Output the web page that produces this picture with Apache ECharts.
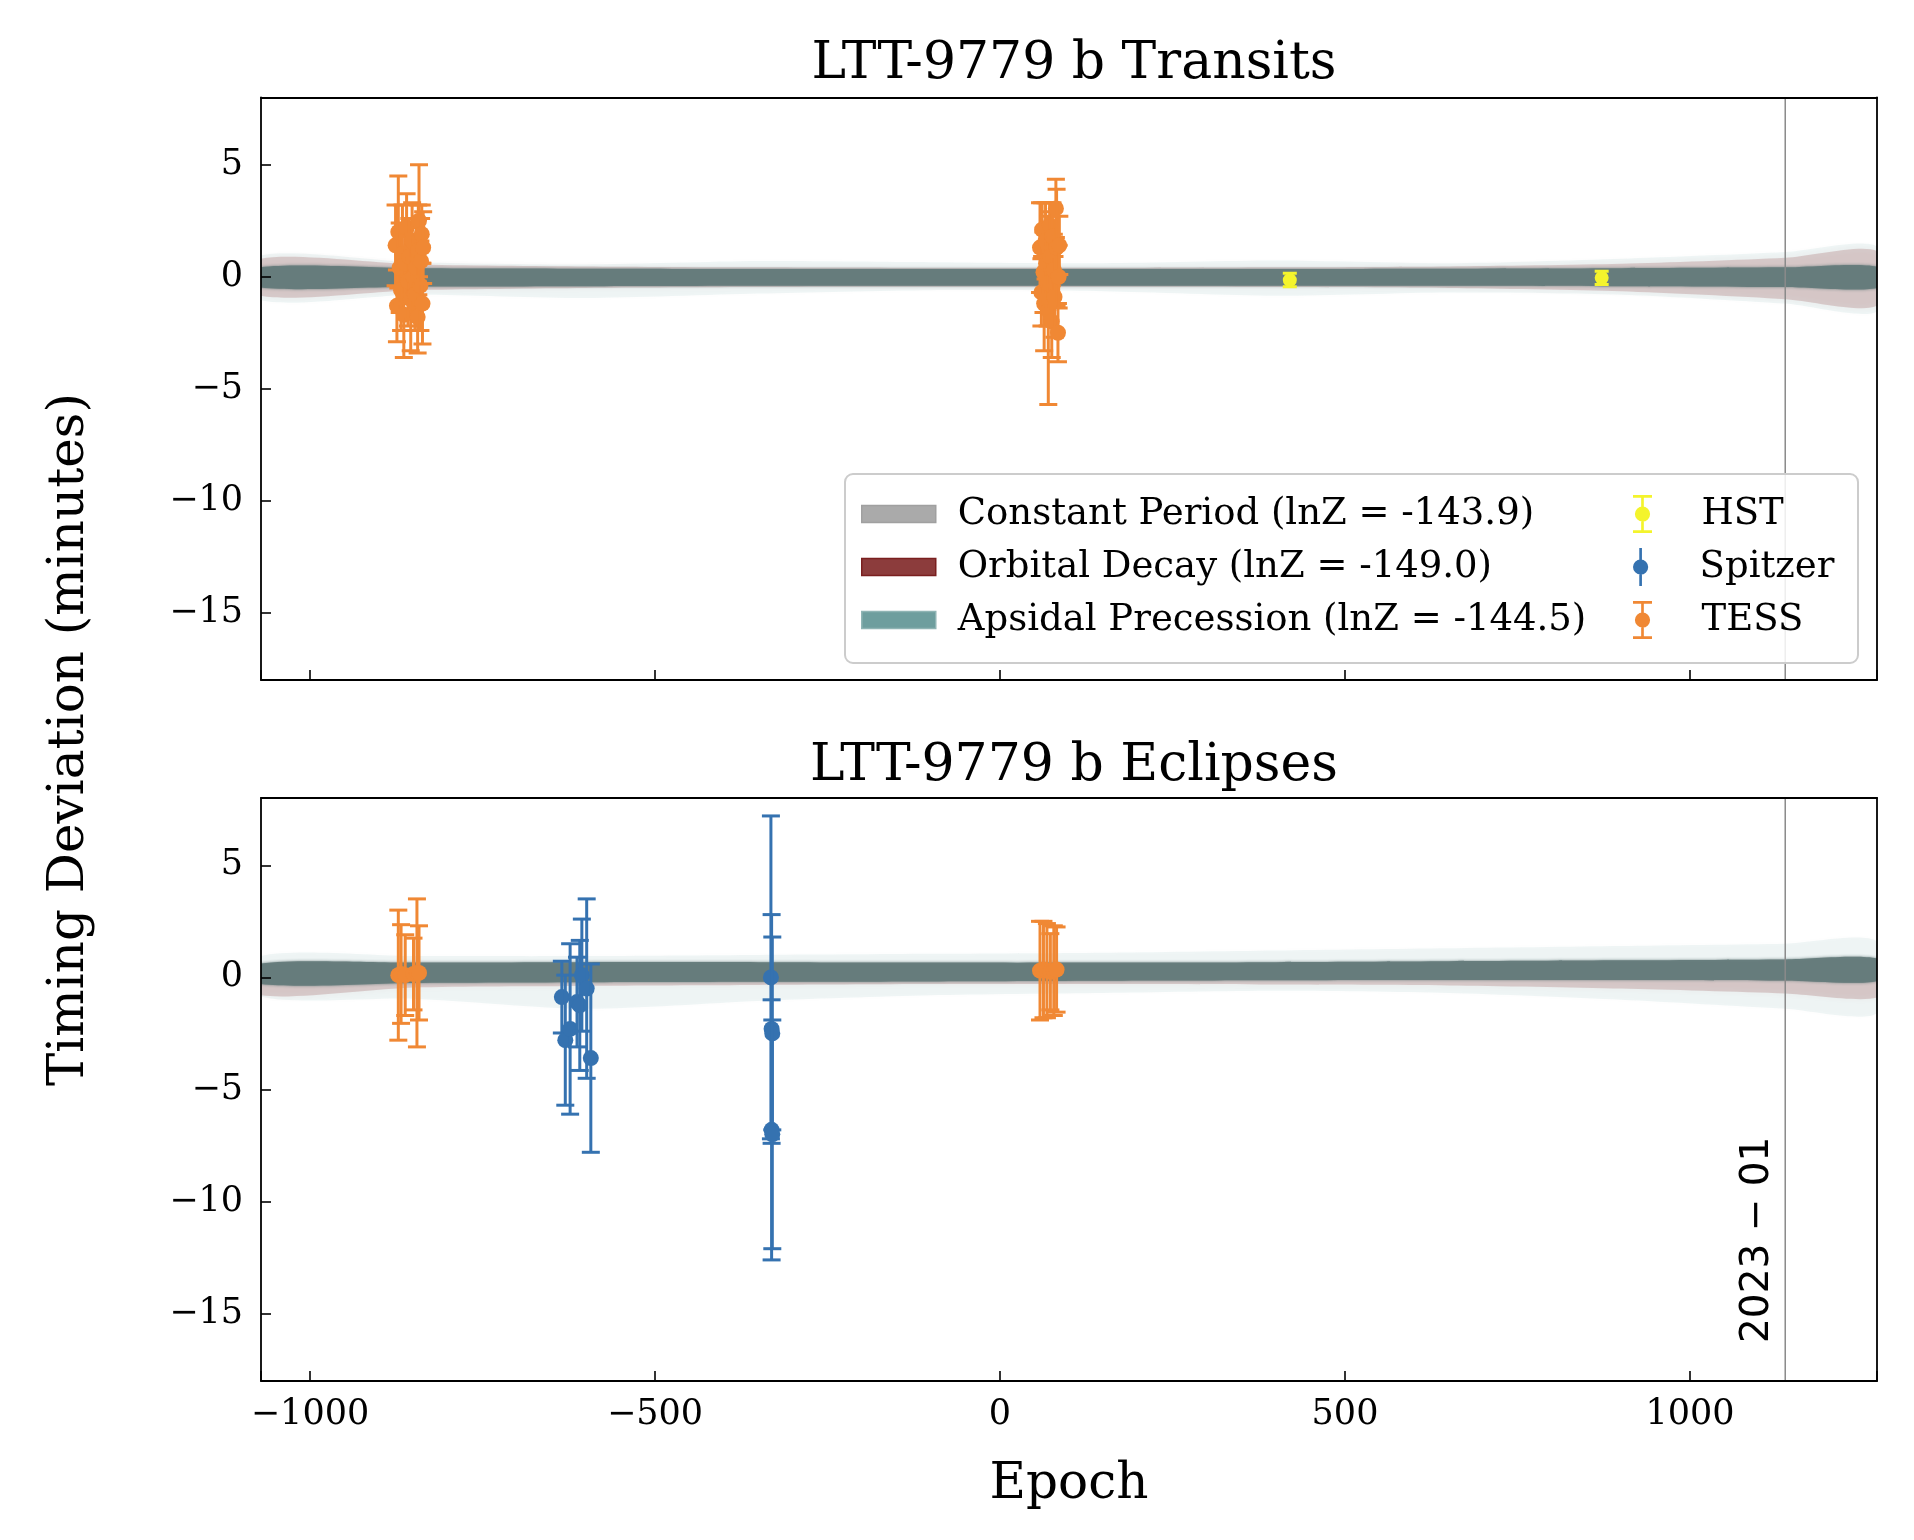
<!DOCTYPE html>
<html>
<head>
<meta charset="utf-8">
<script src="https://cdn.jsdelivr.net/npm/echarts@6/dist/echarts.min.js"></script>
<style>
  html, body { margin: 0; padding: 0; background: #fff; }
  #chart { width: 1914px; height: 1540px; }
</style>
</head>
<body>
<div id="chart"></div>
<script>
/* ========== data ========== */

const xMin = -1071, xMax = 1271
const yMin = -18, yMax = 8
const dateLine = 1138
const dateLabel = '2023 − 01'

const titles = ['LTT-9779 b Transits', 'LTT-9779 b Eclipses']
const xTicks = [-1000, -500, 0, 500, 1000]
const yTicks = [-15, -10, -5, 0, 5]

const nameConst = 'Constant Period (lnZ = -143.9)'
const nameDecay = 'Orbital Decay (lnZ = -149.0)'
const nameApsidal = 'Apsidal Precession (lnZ = -144.5)'

// [epoch, deviation (min), error (min)]
const tessTransits = [
  [-876, 1.4, 1.8], [-874, -1.3, 1.6], [-872, 2.0, 2.5], [-870, 0.4, 2.0],
  [-868, -0.6, 1.8], [-866, 1.0, 2.2], [-864, -1.7, 1.9], [-862, 0.6, 1.5],
  [-860, 2.2, 1.5], [-858, -0.2, 2.0], [-856, 0.9, 1.7], [-854, -1.0, 2.3],
  [-852, 1.6, 1.7], [-850, 0.0, 1.9], [-848, -0.8, 1.6], [-846, 0.4, 1.8],
  [-844, -1.8, 1.6], [-843, 1.2, 2.0], [-842, 2.5, 2.5], [-840, -0.4, 2.0],
  [-839, 0.7, 1.9], [-838, 1.9, 1.3], [-837, -1.2, 1.8], [-836, 1.3, 1.6],
  [58, 1.3, 2.0], [60, -0.7, 1.5], [61, 2.1, 1.2], [63, 0.2, 1.8],
  [64, -1.2, 2.1], [66, 1.6, 1.7], [67, 0.6, 1.4], [69, -0.3, 1.9],
  [70, -1.5, 4.2], [72, 2.3, 1.0], [73, 0.9, 2.0], [75, -2.0, 1.6],
  [76, 1.8, 1.5], [78, 0.3, 1.6], [79, -0.9, 1.8], [81, 3.05, 1.3],
  [82, 1.3, 2.6], [84, -2.5, 1.3], [85, 0.0, 1.4], [86, 1.4, 1.3]
]
const hstTransits = [[420, -0.15, 0.3], [872, -0.05, 0.3]]

const tessEclipses = [
  [-872, 0.1, 2.9], [-868, 0.15, 2.2], [-862, 0.1, 1.8], [-850, 0.15, 1.6],
  [-845, 0.2, 3.3], [-842, 0.2, 2.1],
  [58, 0.3, 2.2], [63, 0.35, 2.15], [68, 0.3, 2.1], [73, 0.25, 1.7],
  [78, 0.3, 2.0], [82, 0.35, 1.9]
]
const spitzerEclipses = [
  [-635, -0.88, 1.6], [-630, -2.8, 2.9], [-623, -2.3, 3.8], [-613, -1.1, 2.0],
  [-609, -1.25, 2.9], [-606, 0.1, 2.5], [-599, -0.5, 4.0], [-593, -3.6, 4.2],
  [-332, 0.0, 7.2], [-331, -2.3, 5.1], [-330, -2.5, 4.3], [-331, -6.8, 5.8],
  [-330, -7.0, 5.1]
]

// model posterior bands
const bandEpochs = [-1071, -850, -600, -350, -100, 150, 400, 650, 900, 1138, 1271]

const constTransitLo = [-0.45, -0.40, -0.38, -0.36, -0.36, -0.36, -0.36, -0.36, -0.38, -0.42, -0.45]
const constTransitHi = [0.38, 0.35, 0.34, 0.33, 0.33, 0.33, 0.33, 0.34, 0.35, 0.38, 0.40]
const decayTransitLo = [-0.85, -0.60, -0.50, -0.46, -0.45, -0.45, -0.46, -0.50, -0.65, -1.00, -1.30]
const decayTransitHi = [0.80, 0.55, 0.46, 0.42, 0.40, 0.40, 0.42, 0.46, 0.58, 0.85, 1.15]
const apsidalTransitLo = [-1.05, -0.80, -0.95, -0.75, -0.60, -0.65, -0.85, -0.70, -0.80, -1.20, -1.55]
const apsidalTransitHi = [0.95, 0.65, 0.55, 0.70, 0.65, 0.60, 0.72, 0.60, 0.80, 1.10, 1.35]
const coreTransitLo = [-0.48, -0.44, -0.42, -0.40, -0.40, -0.40, -0.40, -0.40, -0.42, -0.46, -0.50]
const coreTransitHi = [0.42, 0.38, 0.36, 0.35, 0.35, 0.35, 0.35, 0.36, 0.38, 0.42, 0.45]

const constEclipseLo = [-0.25, -0.22, -0.20, -0.18, -0.16, -0.14, -0.12, -0.12, -0.12, -0.14, -0.16]
const constEclipseHi = [0.55, 0.55, 0.58, 0.60, 0.60, 0.60, 0.62, 0.65, 0.68, 0.72, 0.75]
const decayEclipseLo = [-0.80, -0.45, -0.38, -0.34, -0.30, -0.30, -0.32, -0.36, -0.50, -0.72, -0.90]
const decayEclipseHi = [0.55, 0.40, 0.35, 0.30, 0.30, 0.30, 0.30, 0.32, 0.35, 0.40, 0.45]
const apsidalEclipseLo = [-0.85, -0.95, -1.40, -1.05, -0.80, -0.70, -0.60, -0.70, -1.00, -1.40, -1.60]
const apsidalEclipseHi = [0.95, 0.95, 0.95, 1.00, 1.05, 1.10, 1.20, 1.30, 1.40, 1.50, 1.60]
const coreEclipseLo = [-0.30, -0.25, -0.22, -0.20, -0.18, -0.15, -0.13, -0.12, -0.12, -0.14, -0.16]
const coreEclipseHi = [0.62, 0.66, 0.68, 0.68, 0.66, 0.66, 0.68, 0.72, 0.76, 0.80, 0.84]

/* ========== style ========== */

const SERIF = 'DejaVu Serif'
const C_TESS = '#f08834'
const C_SPITZER = '#3572b0'
const C_HST = '#f4f42c'
const C_CORE = 'rgba(102,124,124,0.96)'

const grids = [
  { left: 261, top: 97.5, width: 1616, height: 582.5 },
  { left: 261, top: 798, width: 1616, height: 583 }
]

function fmtNum(v) {
  return v < 0 ? '−' + Math.abs(v) : String(v)
}

function bandSeries(name, gi, lo, hi, fill, blur, z) {
  return {
    type: 'custom', name, xAxisIndex: gi * 2, yAxisIndex: gi * 2,
    silent: true, clip: true, z,
    data: [[0, 0]],
    renderItem(params, api) {
      const pts = []
      bandEpochs.forEach((e, i) => pts.push(api.coord([e, hi[i]])))
      for (let i = bandEpochs.length - 1; i >= 0; i--) pts.push(api.coord([bandEpochs[i], lo[i]]))
      return {
        type: 'polygon',
        shape: { points: pts, smooth: 0.25 },
        style: { fill, shadowBlur: blur, shadowColor: fill }
      }
    }
  }
}

function errorBarSeries(name, gi, data, color, capHalf, radius, z) {
  return {
    type: 'custom', name, xAxisIndex: gi * 2, yAxisIndex: gi * 2,
    clip: true, z, data,
    encode: { x: 0, y: 1 },
    renderItem(params, api) {
      const x = api.value(0), y = api.value(1), e = api.value(2)
      const mid = api.coord([x, y])
      const top = api.coord([x, y + e])
      const bot = api.coord([x, y - e])
      const ls = { stroke: color, lineWidth: 3 }
      const children = [
        { type: 'line', shape: { x1: mid[0], y1: top[1], x2: mid[0], y2: bot[1] }, style: ls },
        { type: 'line', shape: { x1: mid[0] - capHalf, y1: top[1], x2: mid[0] + capHalf, y2: top[1] }, style: ls },
        { type: 'line', shape: { x1: mid[0] - capHalf, y1: bot[1], x2: mid[0] + capHalf, y2: bot[1] }, style: ls },
        { type: 'circle', shape: { cx: mid[0], cy: mid[1], r: radius }, style: { fill: color } }
      ]
      return { type: 'group', children }
    }
  }
}

function dateLineSeries(gi) {
  return {
    type: 'line', xAxisIndex: gi * 2, yAxisIndex: gi * 2, silent: true, z: 4,
    symbol: 'none', animation: false,
    lineStyle: { color: '#8a8a8a', width: 1.5 },
    data: [[dateLine, yMin], [dateLine, yMax]]
  }
}

function axesFor(gi) {
  const frame = { show: true, onZero: false, lineStyle: { color: '#000', width: 1.8 } }
  const tick = { show: true, inside: true, length: 10, lineStyle: { color: '#000', width: 1.6 } }
  const xs = [
    {
      gridIndex: gi, type: 'value', min: xMin, max: xMax, splitNumber: 5, z: 10,
      position: 'bottom', axisLine: frame, axisTick: tick, splitLine: { show: false },
      axisLabel: {
        show: gi === 1, margin: 16, color: '#000', fontFamily: SERIF, fontSize: 35,
        formatter: v => (xTicks.includes(v) ? fmtNum(v) : '')
      },
      name: gi === 1 ? 'Epoch' : '', nameLocation: 'middle', nameGap: 79,
      nameTextStyle: { color: '#000', fontFamily: SERIF, fontSize: 50 }
    },
    {
      gridIndex: gi, type: 'value', min: xMin, max: xMax, position: 'top', z: 10,
      axisLine: frame, axisTick: { show: false }, axisLabel: { show: false }, splitLine: { show: false }
    }
  ]
  const ys = [
    {
      gridIndex: gi, type: 'value', min: yMin, max: yMax, splitNumber: 5, z: 10,
      position: 'left', axisLine: frame, axisTick: tick, splitLine: { show: false },
      axisLabel: {
        margin: 18, color: '#000', fontFamily: SERIF, fontSize: 35,
        formatter: v => (yTicks.includes(v) ? fmtNum(v) : '')
      }
    },
    {
      gridIndex: gi, type: 'value', min: yMin, max: yMax, position: 'right', z: 10,
      axisLine: frame, axisTick: { show: false }, axisLabel: { show: false }, splitLine: { show: false }
    }
  ]
  return { xs, ys }
}

const a0 = axesFor(0), a1 = axesFor(1)

/* ========== legend ========== */

const ICON_CAPPED = 'path://M0,0H20V3H0Z M8.6,3H11.4V37H8.6Z M0,37H20V40H0Z M10,12A8,8 0 1,1 9.99,12Z'
const ICON_PLAIN = 'path://M8.6,0H11.4V40H8.6Z M10,12A8,8 0 1,1 9.99,12Z'
const legendRows = [514, 567, 620]
const legendText = { color: '#000', fontFamily: SERIF, fontSize: 37, lineHeight: 44 }

function legendLeft(name, color, border, row) {
  return {
    left: 861, top: legendRows[row] - 22, orient: 'vertical', padding: 0, z: 60,
    itemWidth: 74, itemHeight: 17, selectedMode: false,
    textStyle: Object.assign({ padding: [0, 0, 0, 17] }, legendText),
    data: [{ name, icon: 'rect', itemStyle: { color, borderColor: border, borderWidth: 1.5 } }]
  }
}
function legendRight(name, color, icon, row) {
  return {
    left: 1633, top: legendRows[row] - 22, orient: 'vertical', padding: 0, z: 60,
    itemWidth: 20, itemHeight: 38, selectedMode: false,
    textStyle: Object.assign({ padding: [0, 0, 0, 44] }, legendText),
    data: [{ name, icon, itemStyle: { color, borderWidth: 0 } }]
  }
}

/* ========== chart ========== */

const chart = echarts.init(document.getElementById('chart'), null, { renderer: 'canvas' })

const option = {
  animation: false,
  backgroundColor: '#fff',
  title: [
    { text: titles[0], left: 1069, top: 33, textAlign: 'center',
      textStyle: { color: '#000', fontFamily: SERIF, fontWeight: 'normal', fontSize: 52 } },
    { text: titles[1], left: 1069, top: 735, textAlign: 'center',
      textStyle: { color: '#000', fontFamily: SERIF, fontWeight: 'normal', fontSize: 52 } }
  ],
  grid: grids,
  xAxis: [...a0.xs, ...a1.xs],
  yAxis: [...a0.ys, ...a1.ys],
  legend: [
    legendLeft(nameConst, '#aaaaaa', '#a0a0a0', 0),
    legendLeft(nameDecay, '#8c3c3c', '#7a1f1f', 1),
    legendLeft(nameApsidal, '#6e9e9e', '#8fb4b4', 2),
    legendRight('HST', C_HST, ICON_CAPPED, 0),
    legendRight('Spitzer', C_SPITZER, ICON_PLAIN, 1),
    legendRight('TESS', C_TESS, ICON_CAPPED, 2)
  ],
  graphic: [
    {
      type: 'rect', z: 50, silent: true,
      shape: { x: 845, y: 474, width: 1013, height: 189, r: 8 },
      style: { fill: 'rgba(255,255,255,0.85)', stroke: '#cccccc', lineWidth: 2 }
    },
    {
      type: 'text', left: 45, top: 393, rotation: Math.PI / 2, silent: true,
      style: { text: 'Timing Deviation (minutes)', fill: '#000', font: '50px "DejaVu Serif"' }
    }
  ],
  series: [
    // transits
    bandSeries(nameApsidal, 0, apsidalTransitLo, apsidalTransitHi, 'rgba(110,160,160,0.10)', 8, 1),
    bandSeries(nameDecay, 0, decayTransitLo, decayTransitHi, 'rgba(140,70,70,0.22)', 6, 2),
    bandSeries(nameConst, 0, constTransitLo, constTransitHi, 'rgba(120,120,120,0.5)', 0, 3),
    bandSeries(nameApsidal, 0, coreTransitLo, coreTransitHi, C_CORE, 3, 3),
    dateLineSeries(0),
    errorBarSeries('TESS', 0, tessTransits, C_TESS, 9, 8, 6),
    errorBarSeries('HST', 0, hstTransits, C_HST, 7, 7, 6),
    // eclipses
    bandSeries(nameApsidal, 1, apsidalEclipseLo, apsidalEclipseHi, 'rgba(110,160,160,0.10)', 8, 1),
    bandSeries(nameDecay, 1, decayEclipseLo, decayEclipseHi, 'rgba(140,70,70,0.22)', 6, 2),
    bandSeries(nameConst, 1, constEclipseLo, constEclipseHi, 'rgba(120,120,120,0.5)', 0, 3),
    bandSeries(nameApsidal, 1, coreEclipseLo, coreEclipseHi, C_CORE, 3, 3),
    dateLineSeries(1),
    {
      type: 'custom', xAxisIndex: 2, yAxisIndex: 2, silent: true, z: 5,
      data: [[dateLine, yMin]],
      renderItem(params, api) {
        const p = api.coord([api.value(0), api.value(1)])
        return {
          type: 'text', x: p[0] - 8, y: p[1] - 38, rotation: Math.PI / 2,
          style: { text: dateLabel, fill: '#000', font: '39px "DejaVu Sans"', align: 'left', verticalAlign: 'bottom' }
        }
      }
    },
    errorBarSeries('TESS', 1, tessEclipses, C_TESS, 9, 8, 6),
    errorBarSeries('Spitzer', 1, spitzerEclipses, C_SPITZER, 9, 8, 6)
  ]
}

chart.setOption(option)
</script>
</body>
</html>
